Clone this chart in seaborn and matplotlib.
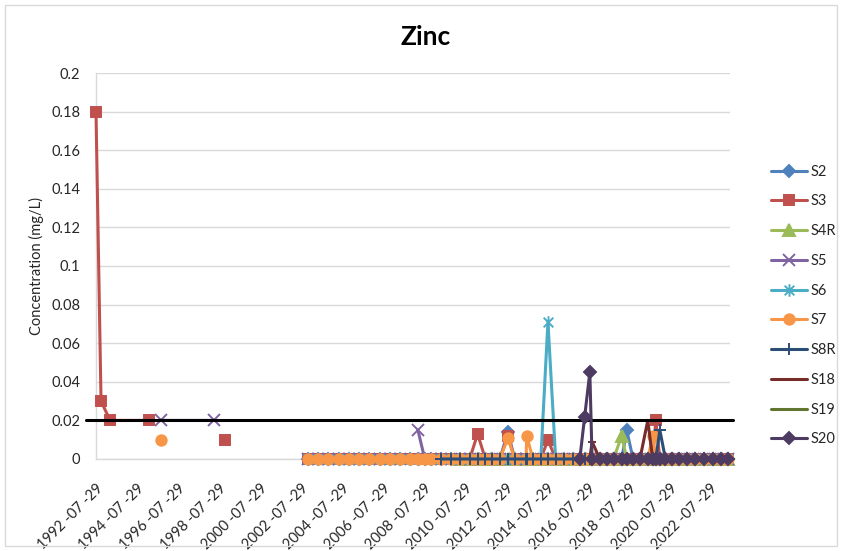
import matplotlib
matplotlib.use("Agg")
import matplotlib.dates as mdates
import matplotlib.pyplot as plt
import numpy as np
import pandas as pd
import seaborn as sns
from matplotlib.patches import Rectangle
from matplotlib.path import Path

n = np.nan

# sample dates (one row per sampling event, blank row breaks the lines)
dates = [
    "1992-07-29", "1992-10-27", "1993-04-06", "1995-03-01", "1995-10-01", "1998-05-01", "1998-11-15", "2001-01-01",
    "2002-12-01", "2003-06-01", "2003-12-01", "2004-06-01", "2004-12-01", "2005-06-01", "2005-12-01", "2006-06-01",
    "2006-12-01", "2007-06-01", "2007-12-01", "2008-04-15", "2008-08-15", "2008-12-01", "2009-06-01", "2009-12-01",
    "2010-05-01", "2010-10-25", "2011-03-15", "2011-08-01", "2011-12-01", "2012-04-15", "2012-09-05", "2013-01-05",
    "2013-07-25", "2013-08-07", "2013-11-25", "2014-04-15", "2014-08-20", "2015-01-05", "2015-06-01", "2015-11-01",
    "2016-03-10", "2016-06-05", "2016-09-05", "2016-10-15", "2017-03-01", "2017-07-01", "2017-11-01", "2018-03-27",
    "2018-06-25", "2018-10-15", "2019-02-15", "2019-07-05", "2019-09-30", "2019-11-25", "2020-02-05", "2020-05-15",
    "2020-09-05", "2021-01-15", "2021-06-01", "2021-11-01", "2022-04-01", "2022-09-01", "2023-02-01", "2023-06-01",
]

s2 = [
    n, n, n, n, n, n, n, n,
    0, 0, 0, 0, 0, 0, 0, 0,
    0, 0, 0, 0, 0, 0, 0, 0,
    0, 0, 0, 0, 0, 0, 0.014, 0,
    0, 0, 0, 0, 0, 0, 0, 0,
    0, 0, 0, 0, 0, 0, 0, 0,
    0.015, 0, 0, 0, 0, 0, 0, 0,
    0, 0, 0, 0, 0, 0, 0, 0,
]
s3 = [
    0.18, 0.03, 0.02, 0.02, n, n, 0.01, n,
    0, 0, 0, 0, 0, 0, 0, 0,
    0, 0, 0, 0, 0, 0, 0, 0,
    0, 0, 0.013, 0, 0, 0, 0.012, 0,
    0, 0, 0, 0, 0.010, 0, 0, 0,
    0, 0, 0, 0, 0, 0, 0, 0,
    0, 0, 0, 0, 0, 0.020, 0, 0,
    0, 0, 0, 0, 0, 0, 0, 0,
]
s4r = [
    n, n, n, n, n, n, n, n,
    n, n, n, n, n, n, n, n,
    n, n, n, n, n, n, n, n,
    0, 0, 0, 0, 0, 0, 0, 0,
    0, 0, 0, 0, 0, 0, 0, 0,
    0, 0, 0, 0, 0, 0, 0, 0.012,
    0, 0, 0, 0, 0, 0, 0, 0,
    0, 0, 0, 0, 0, 0, 0, 0,
]
s5 = [
    n, n, n, n, 0.02, 0.02, n, n,
    0, 0, 0, 0, 0, 0, 0, 0,
    0, 0, n, 0.015, 0, 0, 0, 0,
    0, 0, 0, 0, 0, 0, 0, 0,
    0, 0, 0, 0, 0, 0, 0, 0,
    0, 0, 0, 0, 0, 0, 0, 0,
    0, 0, 0, 0, 0, 0, 0, 0,
    0, 0, 0, 0, 0, 0, 0, 0,
]
s6 = [
    n, n, n, n, n, n, n, n,
    0, 0, 0, 0, 0, 0, 0, 0,
    0, 0, 0, 0, 0, 0, 0, 0,
    0, 0, 0, 0, 0, 0, 0, 0,
    0, 0, 0, 0, 0.071, 0, 0, 0,
    0, 0, 0, 0, 0, 0, 0, 0,
    0, 0, 0, 0, 0, 0, 0, 0,
    0, 0, 0, 0, 0, 0, 0, 0,
]
s7 = [
    n, n, n, n, 0.01, n, n, n,
    0, 0, 0, 0, 0, 0, 0, 0,
    0, 0, 0, 0, 0, 0, 0, 0,
    0, 0, 0, 0, 0, 0, 0.011, 0,
    0, 0.012, 0, 0, 0, 0, 0, 0,
    0, 0, 0, 0, 0, 0, 0, 0,
    0, 0, 0, 0, 0.012, 0, 0, 0,
    0, 0, 0, 0, 0, 0, 0, 0,
]
s8r = [
    n, n, n, n, n, n, n, n,
    n, n, n, n, n, n, n, n,
    n, n, n, n, n, n, 0, 0,
    0, 0, 0, 0, 0, 0, 0, 0,
    0, 0, 0, 0, 0, 0, 0, 0,
    0, 0, 0, 0, 0, 0, 0, 0,
    0, 0, 0, 0, 0, 0, 0.015, 0,
    0, 0, 0, 0, 0, 0, 0, 0,
]
s18 = [
    n, n, n, n, n, n, n, n,
    n, n, n, n, n, n, n, n,
    n, n, n, n, n, n, n, n,
    n, n, n, n, n, n, n, n,
    n, n, n, n, n, n, n, n,
    0, 0, 0, 0.009, 0, 0, 0, 0,
    0, 0, 0, 0.020, 0, 0, 0, 0,
    0, 0, 0, 0, 0, 0, 0, 0,
]
s19 = [
    n, n, n, n, n, n, n, n,
    n, n, n, n, n, n, n, n,
    n, n, n, n, n, n, n, n,
    n, n, n, n, n, n, n, n,
    n, n, n, n, n, n, n, n,
    0, 0, 0, 0, 0, 0, 0, 0,
    0, 0, 0, 0, 0, 0, 0, 0,
    0, 0, 0, 0, 0, 0, 0, 0,
]
s20 = [
    n, n, n, n, n, n, n, n,
    n, n, n, n, n, n, n, n,
    n, n, n, n, n, n, n, n,
    n, n, n, n, n, n, n, n,
    n, n, n, n, n, n, n, n,
    0, 0.022, 0.045, 0, 0, 0, 0, 0,
    0, 0, 0, 0, 0, 0, 0, 0,
    0, 0, 0, 0, 0, 0, 0, 0,
]

site_names = ["S2", "S3", "S4R", "S5", "S6", "S7", "S8R", "S18", "S19", "S20"]
site_values = [s2, s3, s4r, s5, s6, s7, s8r, s18, s19, s20]
guideline = 0.02

star = Path(
    [(-1, -1), (1, 1), (-1, 1), (1, -1), (0, -1.3), (0, 1.3)],
    [Path.MOVETO, Path.LINETO] * 3,
)
styles = {
    "S2": ("#4F81BD", "D", 6),
    "S3": ("#C0504D", "s", 7),
    "S4R": ("#9BBB59", "^", 8),
    "S5": ("#8064A2", "x", 8),
    "S6": ("#4BACC6", star, 9),
    "S7": ("#F79646", "o", 7.5),
    "S8R": ("#2C4D75", "+", 9),
    "S18": ("#772C2A", "_", 6),
    "S19": ("#5F7530", "_", 10),
    "S20": ("#4D3B62", "D", 6),
}

sns.set_theme(style="white")
plt.rcParams["font.family"] = ["Lato", "DejaVu Sans"]
text_color = "#262626"

df = pd.DataFrame({"date": pd.to_datetime(dates)})
for name, vals in zip(site_names, site_values):
    df[name] = vals

fig = plt.figure(figsize=(8.42, 5.51), dpi=100)
ax = fig.add_axes([0.114, 0.167, 0.753, 0.7005])

for i, name in enumerate(site_names):
    color, marker, size = styles[name]
    ax.plot(df["date"], df[name], color=color, linewidth=2.2, marker=marker,
            markersize=size, markerfacecolor=color, markeredgecolor=color,
            markeredgewidth=1.4, label=name, zorder=3 + i, clip_on=False)
    if name == "S19":
        ax.axhline(guideline, xmin=-0.016, xmax=1.005, color="black",
                   linewidth=2.2, clip_on=False, zorder=3 + i + 0.5)

ax.set_xlim(pd.Timestamp("1992-07-29"), pd.Timestamp("2023-07-10"))
ax.set_ylim(0, 0.2)
ax.set_yticks(np.arange(0, 0.201, 0.02))
ax.set_yticklabels([f"{v:g}" for v in np.round(np.arange(0, 0.201, 0.02), 2)])
tick_dates = pd.to_datetime([f"{y}-07-29" for y in range(1992, 2023, 2)])
ax.set_xticks(tick_dates)
ax.set_xticklabels([d.strftime("%Y -%m -%d") for d in tick_dates],
                   rotation=45, ha="right", rotation_mode="anchor")
ax.tick_params(axis="both", length=0, labelsize=10.5, colors=text_color)
ax.tick_params(axis="x", pad=16)
ax.tick_params(axis="y", pad=11.5)
ax.yaxis.grid(True, color="#D9D9D9", linewidth=1)
ax.xaxis.grid(False)
for side in ["top", "right"]:
    ax.spines[side].set_visible(False)
for side in ["left", "bottom"]:
    ax.spines[side].set_color("#D9D9D9")
    ax.spines[side].set_linewidth(1)
ax.set_ylabel("Concentration (mg/L)", fontsize=10.5, color=text_color, labelpad=5)

fig.suptitle("Zinc", x=0.505, y=0.955, fontsize=19, fontweight="bold", color="black")

fig.legend(loc="upper left", bbox_to_anchor=(0.9, 0.725), frameon=False,
           handlelength=2.5, handletextpad=0.2, labelspacing=1.08,
           fontsize=10.5, labelcolor=text_color)

fig.patches.append(Rectangle((0.006, 0.009), 0.988, 0.982, transform=fig.transFigure,
                             fill=False, edgecolor="#D9D9D9", linewidth=1))

fig.savefig("out.png", dpi=100)
